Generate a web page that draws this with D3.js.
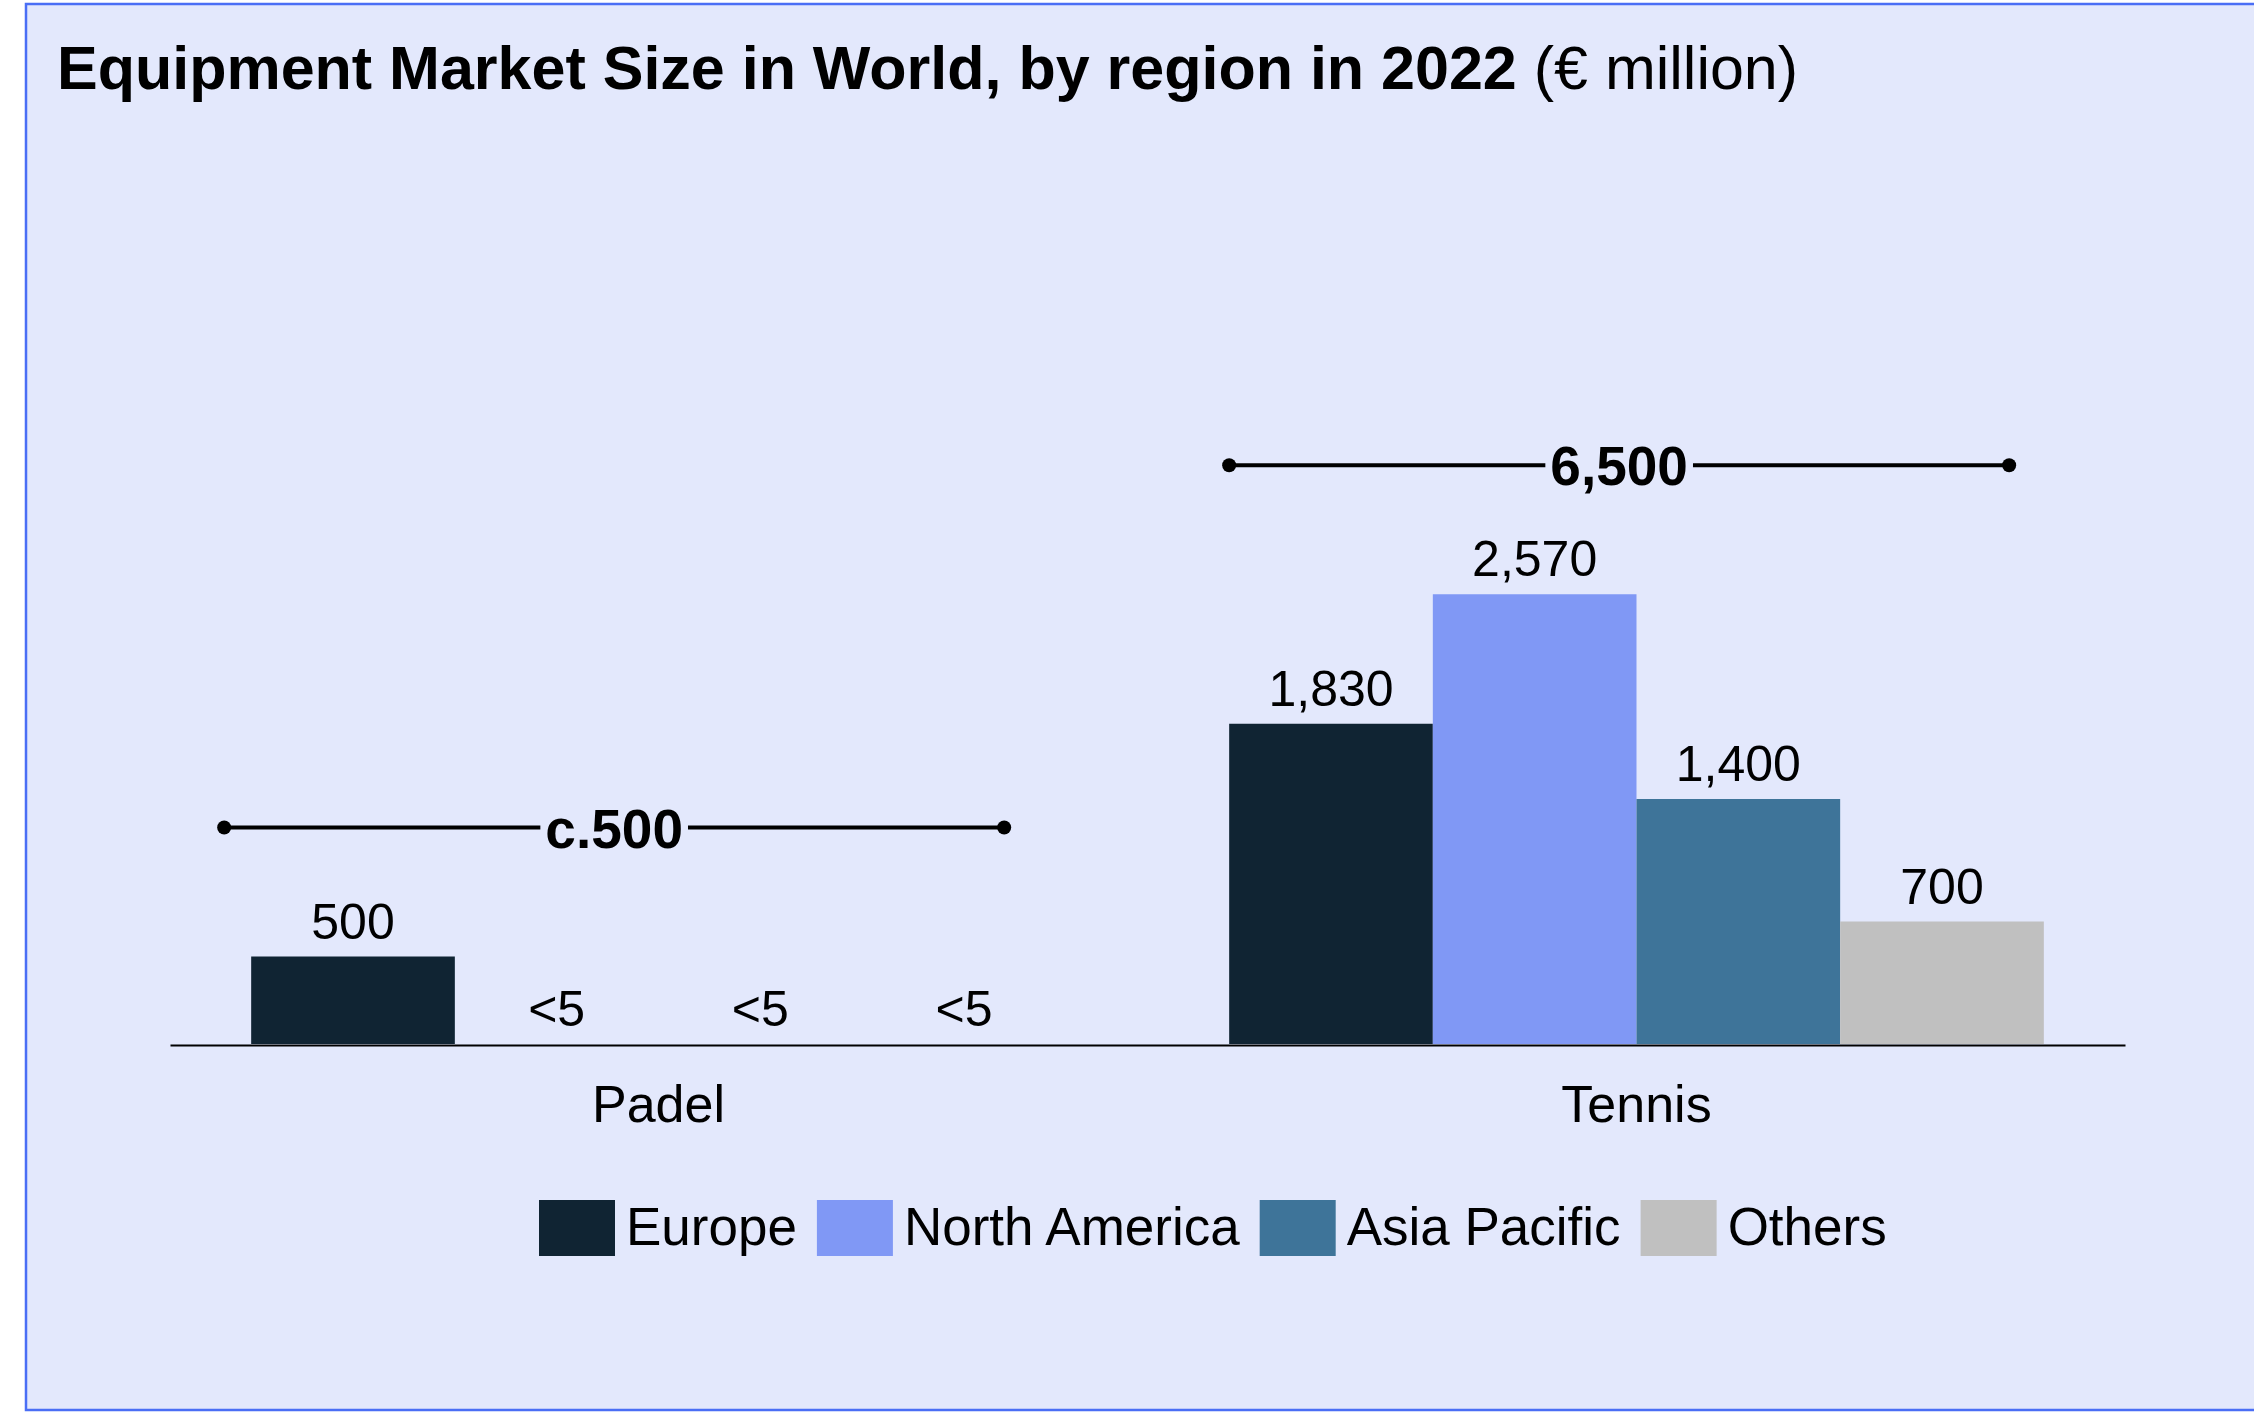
<!DOCTYPE html>
<html>
<head>
<meta charset="utf-8">
<script src="https://cdn.jsdelivr.net/npm/d3@7"></script>
<style>
body { margin: 0; background: #fff; }
svg text { font-family: "Liberation Sans", Arial, sans-serif; fill: #000; }
</style>
</head>
<body>
<script>
const categories = ['Padel', 'Tennis']
const regions = ['Europe', 'North America', 'Asia Pacific', 'Others']
const padelValues = [500, 0, 0, 0]
const padelLabels = ['500', '<5', '<5', '<5']
const tennisValues = [1830, 2570, 1400, 700]
const tennisLabels = ['1,830', '2,570', '1,400', '700']
const totals = ['c.500', '6,500']
const colors = ['#102433', '#8098f5', '#3e7499', '#c0c0c0']

const values = [padelValues, tennisValues]
const labels = [padelLabels, tennisLabels]

const width = 2254
const height = 1412

const svg = d3.select('body').append('svg')
  .attr('width', width)
  .attr('height', height)

// panel background
svg.append('rect')
  .attr('x', 26).attr('y', 4)
  .attr('width', width).attr('height', 1406)
  .attr('fill', '#e3e8fc')
  .attr('stroke', '#4a6ef5')
  .attr('stroke-width', 2.5)

const title = svg.append('text')
  .attr('x', 57).attr('y', 89)
  .attr('font-size', 61)
title.append('tspan').attr('font-weight', 'bold')
  .text('Equipment Market Size in World, by region in 2022 ')
title.append('tspan').text('(€ million)')

const x0 = d3.scaleBand()
  .domain(categories)
  .range([170, 2125])
  .paddingInner(0.167)
  .paddingOuter(0.083)

const x1 = d3.scaleBand()
  .domain(regions)
  .range([0, x0.bandwidth()])

const y = d3.scaleLinear()
  .domain([0, 4000])
  .range([1044, 344])

const rows = categories.map((c, i) => regions.map((r, j) => ({
  cat: c, region: r, value: values[i][j], label: labels[i][j], color: colors[j]
})))

const groups = svg.selectAll('g.group')
  .data(rows)
  .enter().append('g')
  .attr('class', 'group')
  .attr('transform', (d, i) => `translate(${x0(categories[i])},0)`)

groups.selectAll('rect')
  .data(d => d)
  .enter().append('rect')
  .attr('x', d => x1(d.region))
  .attr('y', d => y(d.value))
  .attr('width', x1.bandwidth())
  .attr('height', d => y(0) - y(d.value))
  .attr('fill', d => d.color)

groups.selectAll('text.val')
  .data(d => d)
  .enter().append('text')
  .attr('class', 'val')
  .attr('x', d => x1(d.region) + x1.bandwidth() / 2)
  .attr('y', d => y(d.value) - 18)
  .attr('text-anchor', 'middle')
  .attr('font-size', 50)
  .text(d => d.label)

// x axis
const axis = svg.append('g')
  .attr('transform', `translate(0,${y(0) + 1})`)
  .call(d3.axisBottom(x0).tickSize(0).tickSizeOuter(0).tickPadding(40))
axis.select('.domain').attr('stroke', '#000').attr('stroke-width', 2)
axis.selectAll('text')
  .attr('font-size', 52)
  .attr('font-family', '"Liberation Sans", Arial, sans-serif')
  .attr('fill', '#000')

// total brackets
const bracketShift = [-27, 0]
const bracketLen = 780
categories.forEach((c, i) => {
  const by = y(d3.max(values[i])) - 129
  const bx1 = x0(c) + bracketShift[i]
  const bx2 = bx1 + bracketLen
  const mid = (bx1 + bx2) / 2
  const g = svg.append('g')
  const t = g.append('text')
    .attr('x', mid).attr('y', by + 20)
    .attr('text-anchor', 'middle')
    .attr('font-size', 55)
    .attr('font-weight', 'bold')
    .text(totals[i])
  const tw = t.node().getComputedTextLength()
  g.append('line')
    .attr('x1', bx1).attr('x2', mid - tw / 2 - 5)
    .attr('y1', by).attr('y2', by)
    .attr('stroke', '#000').attr('stroke-width', 4)
  g.append('line')
    .attr('x1', mid + tw / 2 + 5).attr('x2', bx2)
    .attr('y1', by).attr('y2', by)
    .attr('stroke', '#000').attr('stroke-width', 4)
  g.selectAll('circle')
    .data([bx1, bx2])
    .enter().append('circle')
    .attr('cx', d => d).attr('cy', by).attr('r', 7)
    .attr('fill', '#000')
})

// legend
const legend = svg.append('g')
let lx = 539
regions.forEach((r, i) => {
  legend.append('rect')
    .attr('x', lx).attr('y', 1200)
    .attr('width', 76).attr('height', 56)
    .attr('fill', colors[i])
  const t = legend.append('text')
    .attr('x', lx + 87).attr('y', 1245)
    .attr('font-size', 53)
    .text(r)
  lx += 87 + t.node().getComputedTextLength() + 20
})
</script>
</body>
